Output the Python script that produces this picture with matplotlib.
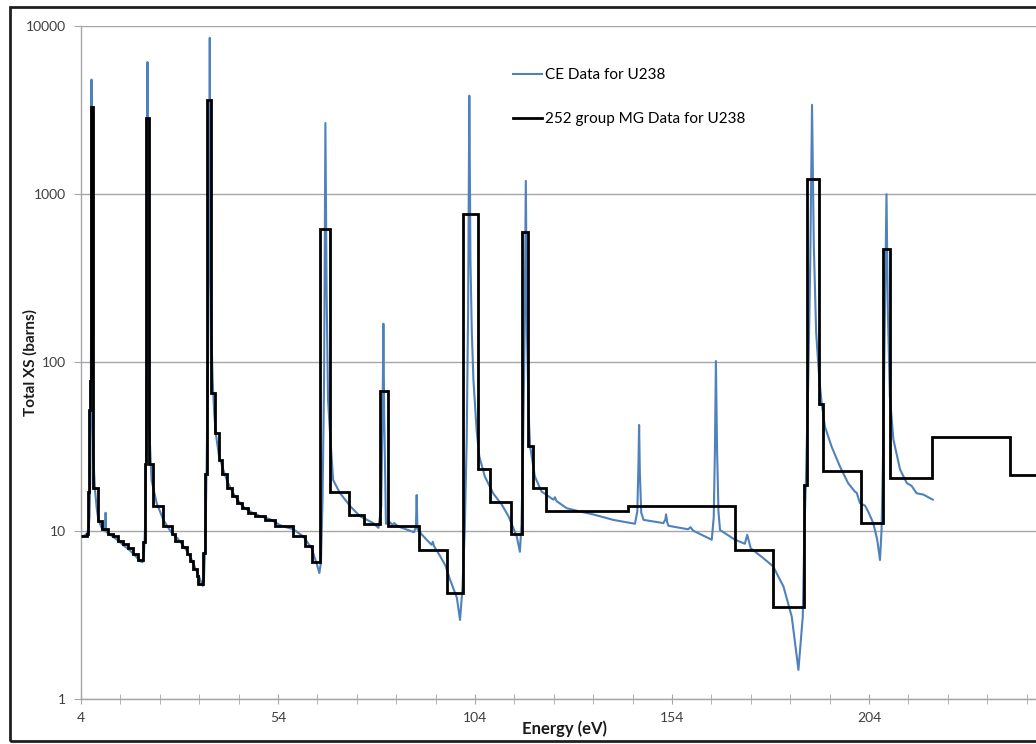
import matplotlib
matplotlib.use("Agg")
import matplotlib.pyplot as plt
from matplotlib.patches import Rectangle

# Continuous-energy (CE) total cross section: energy (eV), XS (barns)
ce_energy = [4.0, 5.0, 5.6, 5.9, 6.15, 6.35, 6.48, 6.58, 6.67, 6.76, 6.88, 7.1, 7.55, 8.0,
             8.4, 9.25, 9.8, 10.15, 10.24, 10.33, 11.0, 12.0, 13.0, 14.0, 15.0, 16.0, 17.0,
             18.0, 19.0, 19.6, 20.0, 20.3, 20.55, 20.72, 20.87, 21.02, 21.25, 21.9, 23.2,
             24.9, 27.0, 28.5, 30.0, 31.0, 32.0, 33.0, 34.0, 34.9, 35.2, 35.5, 35.8, 36.2,
             36.5, 36.68, 36.86, 37.1, 37.4, 37.8, 38.2, 39.0, 40.0, 41.0, 42.0, 43.0, 44.0,
             45.0, 46.5, 48.0, 50.0, 52.0, 54.5, 56.0, 57.9, 60.4, 62.5, 63.8, 64.5, 64.9,
             65.3, 65.7, 66.03, 66.35, 66.7, 67.2, 68.0, 69.7, 72.3, 74.8, 78.2, 79.5, 80.2,
             80.55, 80.75, 80.95, 81.4, 82.5, 83.0, 83.5, 84.5, 86.0, 88.5, 89.0, 89.2, 89.4,
             90.5, 92.0, 93.0, 93.3, 93.6, 95.1, 96.5, 97.7, 99.4, 100.2, 100.8, 101.4, 101.9,
             102.25, 102.56, 102.85, 103.2, 103.6, 104.4, 105.1, 106.5, 108.6, 110.8, 112.5,
             114.6, 115.4, 115.8, 116.2, 116.6, 116.9, 117.2, 117.6, 118.0, 119.2, 120.9,
             123.9, 124.3, 124.7, 127.3, 130.7, 134.0, 139.1, 144.6, 145.2, 145.48, 145.66,
             145.85, 146.2, 146.8, 151.8, 152.3, 152.5, 152.8, 153.1, 158.1, 158.7, 159.4,
             164.1, 164.6, 164.9, 165.15, 165.45, 165.8, 166.2, 170.0, 172.5, 173.1, 174.0,
             177.2, 179.7, 182.3, 184.4, 186.1, 187.2, 187.6, 188.0, 188.6, 189.1, 189.55,
             190.0, 190.6, 191.4, 192.0, 192.8, 194.5, 196.6, 198.7, 200.4, 200.9, 201.7,
             203.0, 203.8, 205.1, 206.1, 206.8, 207.2, 207.6, 208.0, 208.45, 208.8, 209.3,
             210.2, 211.9, 213.6, 214.8, 216.1, 217.8, 220.2]
ce_xs = [9.2, 9.4, 9.7, 10.3, 12, 20, 50, 250, 4800, 250, 60, 28, 17.5, 13.5,
         11.6, 10.4, 10.1, 10.0, 12.8, 9.9, 9.6, 9.25, 8.9, 8.5, 8.1, 7.8, 7.4,
         7.0, 6.6, 6.5, 7.5, 11, 30, 150, 6100, 150, 45, 20, 14.6,
         11.6, 9.7, 9.0, 8.1, 7.5, 6.8, 6.0, 5.3, 4.7, 5.2, 8, 18, 80,
         500, 8500, 500, 150, 80, 50, 38, 28, 23.5, 20, 17.8, 16.2, 15,
         14, 13.2, 12.6, 12.1, 11.7, 10.8, 10.5, 10.2, 9.25, 7.9, 6.4, 5.6, 6.5,
         15, 80, 2650, 250, 60, 38, 20, 16.8, 14, 12.2, 11.1, 10.4, 14,
         50, 170, 50, 11, 11.2, 10.8, 11.1, 10.6, 10.3, 9.8, 10.5, 16.3, 10.2,
         9.5, 8.7, 8.25, 8.6, 8.1, 7.1, 6.2, 5.1, 4.0, 2.95, 4.5, 10, 35,
         200, 3850, 400, 150, 79, 40, 27.6, 21, 16.7, 14.3, 12.2,
         9.25, 7.5, 11, 30, 150, 1200, 150, 50, 31.7, 21, 17.1,
         15.3, 15.8, 15, 13.6, 13.0, 12.5, 11.6, 11.0, 13, 24, 42.5,
         22, 12.8, 11.6, 11.1, 11.6, 12.5, 11.2, 10.7, 10.2, 10.5, 10.0,
         8.84, 12, 30, 102, 30, 13, 10.1, 8.84, 8.37, 9.45, 7.86,
         6.87, 6.13, 4.66, 3.09, 1.49, 3.09, 9.7, 20, 80, 400, 3400,
         500, 150, 79, 57.6, 41.8, 31.7, 24.2, 19.2, 17.1, 16.8, 14.6,
         14.1, 13.0, 11.1, 8.84, 6.7, 10.1, 30, 150, 1000, 200, 63,
         34.9, 23.1, 19.2, 18.5, 16.7, 16.4, 15.3]

# 252 group multigroup (MG) data: group edges (eV) and group cross sections (barns)
mg_edges = [4.0, 5.45, 5.86, 6.1, 6.35, 6.55, 7.1, 8.2, 9.25, 10.93, 12.2, 13.47, 14.74,
            16.0, 17.27, 18.54, 19.8, 20.24, 20.55, 21.3, 22.35, 24.9, 27.0, 27.9, 29.6,
            30.8, 31.7, 32.5, 33.4, 33.8, 35.0, 35.4, 36.0, 36.9, 38.0, 39.0, 39.7, 41.0,
            42.2, 43.5, 44.8, 46.5, 48.2, 50.7, 53.2, 57.9, 60.85, 62.55, 64.66, 67.3,
            72.1, 75.8, 79.9, 81.8, 89.9, 96.8, 101.0, 104.85, 107.8, 113.1, 115.9, 117.5,
            118.6, 122.0, 142.8, 170.0, 179.7, 187.6, 188.2, 191.4, 192.4, 202.0, 207.5,
            209.3, 219.9, 239.8, 250.0]
mg_xs = [9.25, 9.6, 17, 52, 78, 3300, 18, 11.4, 10.2, 9.6, 9.25, 8.7, 8.37,
         7.9, 7.3, 6.7, 8.6, 24.8, 2830, 24.8, 14.1, 10.6, 9.5, 8.7, 8.0,
         7.3, 6.6, 5.9, 5.4, 4.8, 7.4, 21.6, 3650, 66, 38.2, 26.5, 21.6,
         18, 16.0, 14.6, 13.6, 12.7, 12.2, 11.6, 10.6, 9.35, 8.1, 6.5, 620,
         17.0, 12.4, 11.0, 67.5, 10.6, 7.7, 4.27, 760, 23.3, 14.9, 9.6, 594,
         31.7, 17.9, 13.1, 14.1, 7.7, 3.5, 18.8, 1230, 57, 22.8, 11.1,
         470, 20.6, 36.0, 21.4]

x_ticks = [4, 54, 104, 154, 204]
y_ticks = [1, 10, 100, 1000, 10000]

plt.rcParams['font.family'] = ['Lato', 'DejaVu Sans']

fig = plt.figure(figsize=(10.36, 7.44), dpi=100)
ax = fig.add_axes([0.0782, 0.0605, 0.9218, 0.9046])

ax.plot(ce_energy, ce_xs, color='#4f81bd', lw=1.5, label='CE Data for U238', zorder=2)
ax.stairs(mg_xs, mg_edges, color='black', lw=2.0, baseline=None,
          label='252 group MG Data for U238', zorder=3)

ax.set_yscale('log')
ax.set_ylim(1, 10000)
ax.set_xlim(4, 246.4)

ax.set_yticks(y_ticks)
ax.set_yticklabels([str(v) for v in y_ticks])
ax.yaxis.set_minor_locator(matplotlib.ticker.NullLocator())
ax.set_xticks(x_ticks)
ax.set_xticks(list(range(4, 247, 10)), minor=True)

ax.grid(axis='y', color='#a6a6a6', lw=1.0)
ax.set_axisbelow(True)
for side in ['top', 'right']:
    ax.spines[side].set_visible(False)
for side in ['left', 'bottom']:
    ax.spines[side].set_color('#a6a6a6')
    ax.spines[side].set_linewidth(1.0)

ax.tick_params(axis='x', which='both', direction='inout', length=7, color='#a6a6a6',
               labelsize=10, labelcolor='#404040', pad=6)
ax.tick_params(axis='y', which='both', direction='out', length=5, color='#a6a6a6',
               labelsize=10, labelcolor='#404040', pad=6)

fig.text(0.545, 0.021, 'Energy (eV)', ha='center', va='center', fontsize=12,
         fontweight='bold', color='#1a1a1a')
fig.text(0.029, 0.513, 'Total XS (barns)', ha='center', va='center', rotation=90,
         fontsize=11, fontweight='bold', color='#1a1a1a')

ax.legend(loc='upper left', bbox_to_anchor=(0.495, 0.908), bbox_transform=fig.transFigure,
          frameon=False, fontsize=11, handlelength=1.9, handletextpad=0.2,
          labelspacing=1.95, borderpad=0, borderaxespad=0)

# chart area border
fig.patches.append(Rectangle((0.0097, 0.004), 1.0, 0.9866, transform=fig.transFigure,
                             fill=False, edgecolor='#202020', lw=2.0))

fig.savefig('out.png', dpi=100)
